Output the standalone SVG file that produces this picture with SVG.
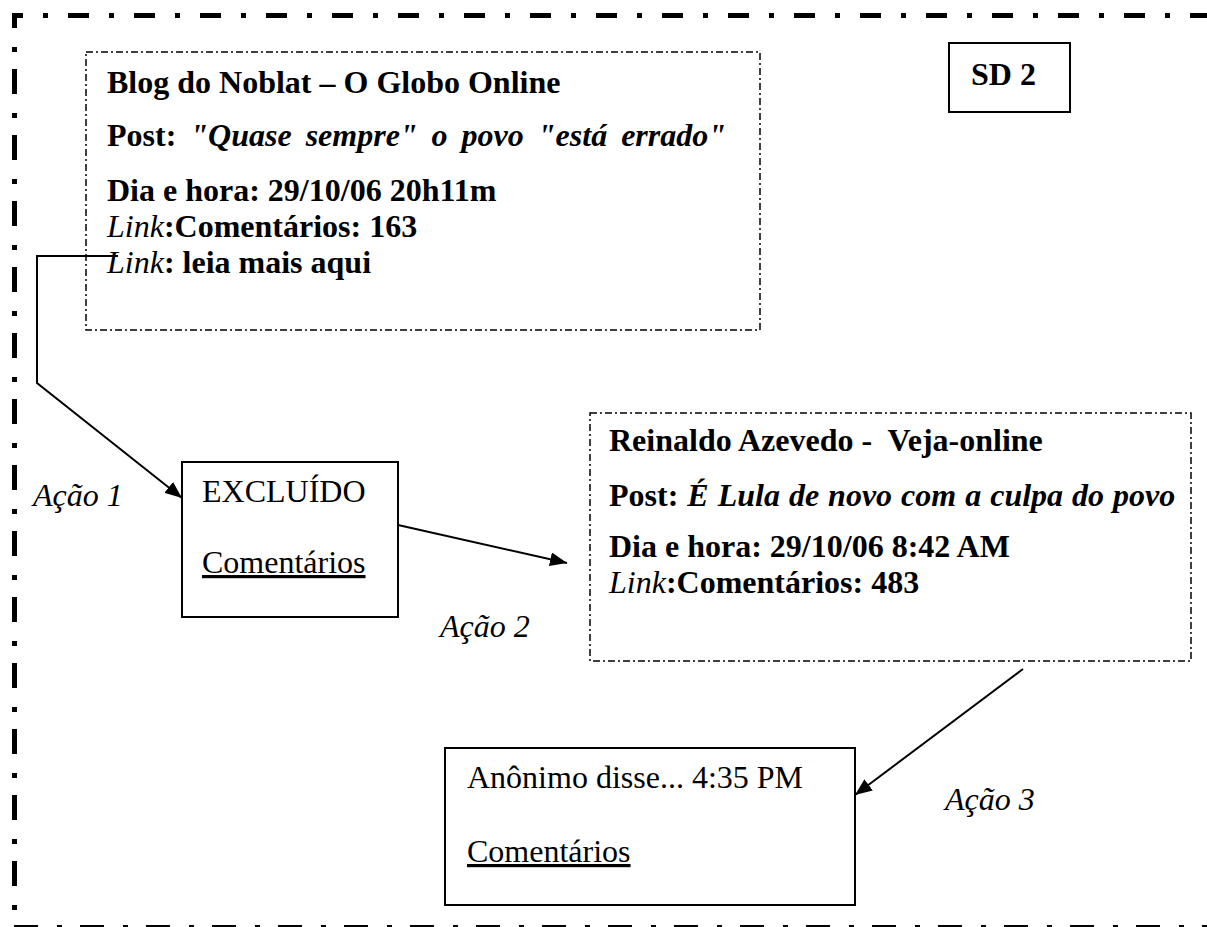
<svg xmlns="http://www.w3.org/2000/svg" width="1207" height="927" viewBox="0 0 1207 927">
<defs>
<style>
.t { font-family: "Liberation Serif", "Times New Roman", serif; font-size: 32px; fill: #000; }
.b { font-weight: bold; }
.i { font-style: italic; }
.u { text-decoration: underline; }
.dd { fill: none; stroke: #000; stroke-width: 1.5; stroke-dasharray: 7 3 2 3; }
.box { fill: #fff; stroke: #000; stroke-width: 2; }
.conn { fill: none; stroke: #000; stroke-width: 2; }
.frame { fill: none; stroke: #000; stroke-width: 5; }
</style>
<marker id="ah" markerUnits="userSpaceOnUse" markerWidth="18" markerHeight="14" refX="17" refY="7" orient="auto">
<path d="M0,0 L17,7 L0,14 z" fill="#000"/>
</marker>
</defs>
<rect width="1207" height="927" fill="#fff"/>
<g id="frame">
<line class="frame" x1="12" y1="15.5" x2="1207" y2="15.5" stroke-dasharray="21 20 5 20" stroke-dashoffset="10"/>
<line class="frame" x1="14.5" y1="13" x2="14.5" y2="927" stroke-dasharray="25 19 5 17" stroke-dashoffset="10"/>
<line class="frame" x1="13" y1="927.5" x2="1207" y2="927.5" stroke-dasharray="24 19 5 18" stroke-dashoffset="-1"/>
</g>
<g id="blog-noblat">
<rect class="dd" x="86" y="52" width="674" height="278"/>
<text class="t b" x="107" y="93">Blog do Noblat – O Globo Online</text>
<text class="t b" x="107" y="146" word-spacing="6">Post: <tspan class="i">"Quase sempre" o povo "está errado"</tspan></text>
<text class="t b" x="107" y="201">Dia e hora: 29/10/06 20h11m</text>
<text class="t b" x="107" y="237"><tspan class="i" font-weight="normal">Link</tspan>:Comentários: 163</text>
<text class="t b" x="107" y="273"><tspan class="i" font-weight="normal">Link</tspan>: leia mais aqui</text>
</g>
<g id="sd2">
<rect class="box" x="949" y="43" width="121" height="69"/>
<text class="t b" x="971" y="85">SD 2</text>
</g>
<g id="excluido">
<rect class="box" x="182" y="462" width="216" height="155"/>
<text class="t" x="202" y="502">EXCLUÍDO</text>
<text class="t u" x="202" y="573">Comentários</text>
</g>
<g id="reinaldo">
<rect class="dd" x="590" y="413" width="601" height="248"/>
<text class="t b" x="609" y="451" xml:space="preserve">Reinaldo Azevedo -  Veja-online</text>
<text class="t b" x="609" y="506" word-spacing="1">Post: <tspan class="i">É Lula de novo com a culpa do povo</tspan></text>
<text class="t b" x="609" y="557">Dia e hora: 29/10/06 8:42 AM</text>
<text class="t b" x="609" y="593"><tspan class="i" font-weight="normal">Link</tspan>:Comentários: 483</text>
</g>
<g id="anonimo">
<rect class="box" x="445" y="748" width="410" height="157"/>
<text class="t" x="467" y="788">Anônimo disse... 4:35 PM</text>
<text class="t u" x="467" y="862">Comentários</text>
</g>
<g id="labels">
<text class="t i" x="33" y="506">Ação 1</text>
<text class="t i" x="440" y="637">Ação 2</text>
<text class="t i" x="945" y="810">Ação 3</text>
</g>
<g id="connectors">
<path class="conn" d="M118,256 H37 V383 L182,498" marker-end="url(#ah)"/>
<line class="conn" x1="398" y1="525" x2="567" y2="563" marker-end="url(#ah)"/>
<line class="conn" x1="1023" y1="669" x2="855" y2="795" marker-end="url(#ah)"/>
</g>
</svg>
